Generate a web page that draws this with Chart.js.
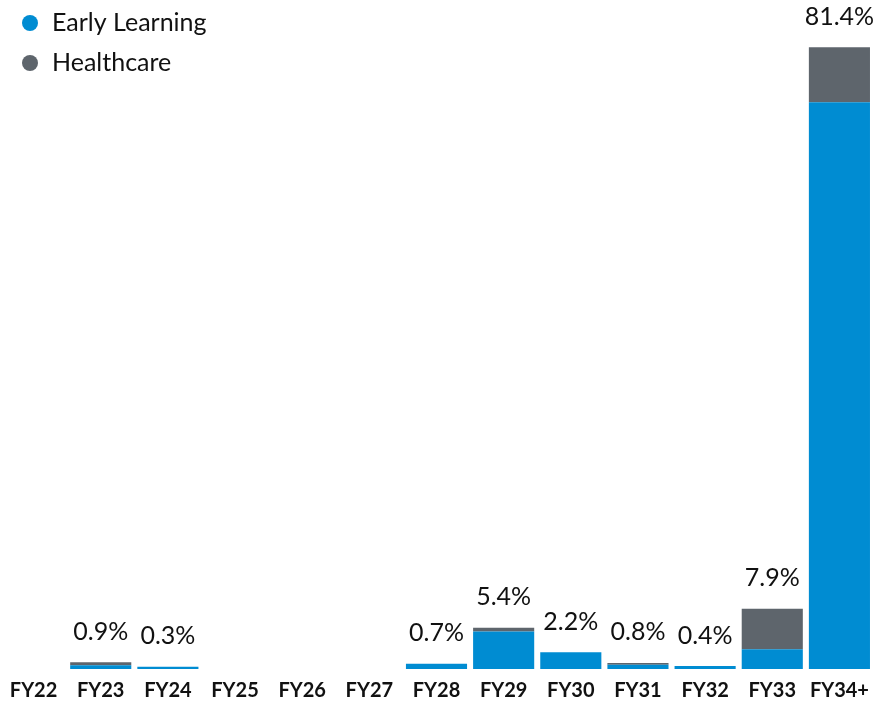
<!DOCTYPE html>
<html>
<head>
<meta charset="utf-8">
<script src="https://cdn.jsdelivr.net/npm/chart.js@4/dist/chart.umd.min.js"></script>
<style>
html,body{margin:0;padding:0;background:#fff;}
#wrap{width:875px;height:702px;position:relative;}
</style>
</head>
<body>
<div id="wrap"><canvas id="c" width="875" height="702"></canvas></div>
<script>
const categories = ['FY22','FY23','FY24','FY25','FY26','FY27','FY28','FY29','FY30','FY31','FY32','FY33','FY34+'];
const earlyLearning = [0, 0.5, 0.3, 0, 0, 0, 0.7, 4.9, 2.2, 0.55, 0.4, 2.6, 74.2];
const healthcare    = [0, 0.4, 0,   0, 0, 0, 0,   0.5, 0,   0.25, 0,   5.3, 7.2];
const totalLabels   = ['', '0.9%', '0.3%', '', '', '', '0.7%', '5.4%', '2.2%', '0.8%', '0.4%', '7.9%', '81.4%'];

const FONT = 'Lato, "Open Sans", sans-serif';

const totalsPlugin = {
  id: 'totals',
  afterLayout(chart) {
    if (chart.legend) {
      chart.legend.left = 5.5;
      chart.legend.top = -4.5;
    }
  },
  afterDatasetsDraw(chart) {
    const ctx = chart.ctx;
    const xs = chart.scales.x, ys = chart.scales.y;
    ctx.save();
    ctx.font = '25px ' + FONT;
    ctx.fillStyle = '#111';
    ctx.textAlign = 'center';
    ctx.textBaseline = 'bottom';
    categories.forEach((c, i) => {
      if (!totalLabels[i]) return;
      const sum = earlyLearning[i] + healthcare[i];
      const x = xs.getPixelForValue(i);
      const y = ys.getPixelForValue(sum);
      ctx.fillText(totalLabels[i], x, y - 18);
    });
    ctx.restore();
  }
};

new Chart(document.getElementById('c'), {
  type: 'bar',
  data: {
    labels: categories,
    datasets: [
      { label: 'Early Learning', data: earlyLearning, backgroundColor: '#008CD2', borderWidth: 0 },
      { label: 'Healthcare', data: healthcare, backgroundColor: '#5E656C', borderWidth: 0 }
    ]
  },
  options: {
    responsive: false,
    animation: false,
    layout: { padding: { left: 0, right: 2, top: 0, bottom: 0 } },
    datasets: { bar: { categoryPercentage: 1.0, barPercentage: 0.91 } },
    scales: {
      x: {
        stacked: true,
        grid: { display: false, drawTicks: false, tickLength: 0 },
        border: { display: false },
        ticks: { color: '#111', font: { family: FONT, size: 20, weight: 'bold' }, padding: 10, maxRotation: 0, autoSkip: false },
        afterFit(scale) {
          scale.height = 33;
          scale.paddingLeft = 0;
          scale.paddingRight = 0;
          scale.paddingTop = 0;
          scale.paddingBottom = 0;
        }
      },
      y: {
        stacked: true,
        display: false,
        min: 0,
        max: 87.6
      }
    },
    plugins: {
      legend: {
        position: 'chartArea',
        align: 'start',
        labels: {
          usePointStyle: true,
          pointStyle: 'circle',
          boxWidth: 19,
          boxHeight: 11.3,
          padding: 15,
          color: '#111',
          font: { family: FONT, size: 25 }
        }
      },
      tooltip: { enabled: false }
    }
  },
  plugins: [totalsPlugin]
});
</script>
</body>
</html>
